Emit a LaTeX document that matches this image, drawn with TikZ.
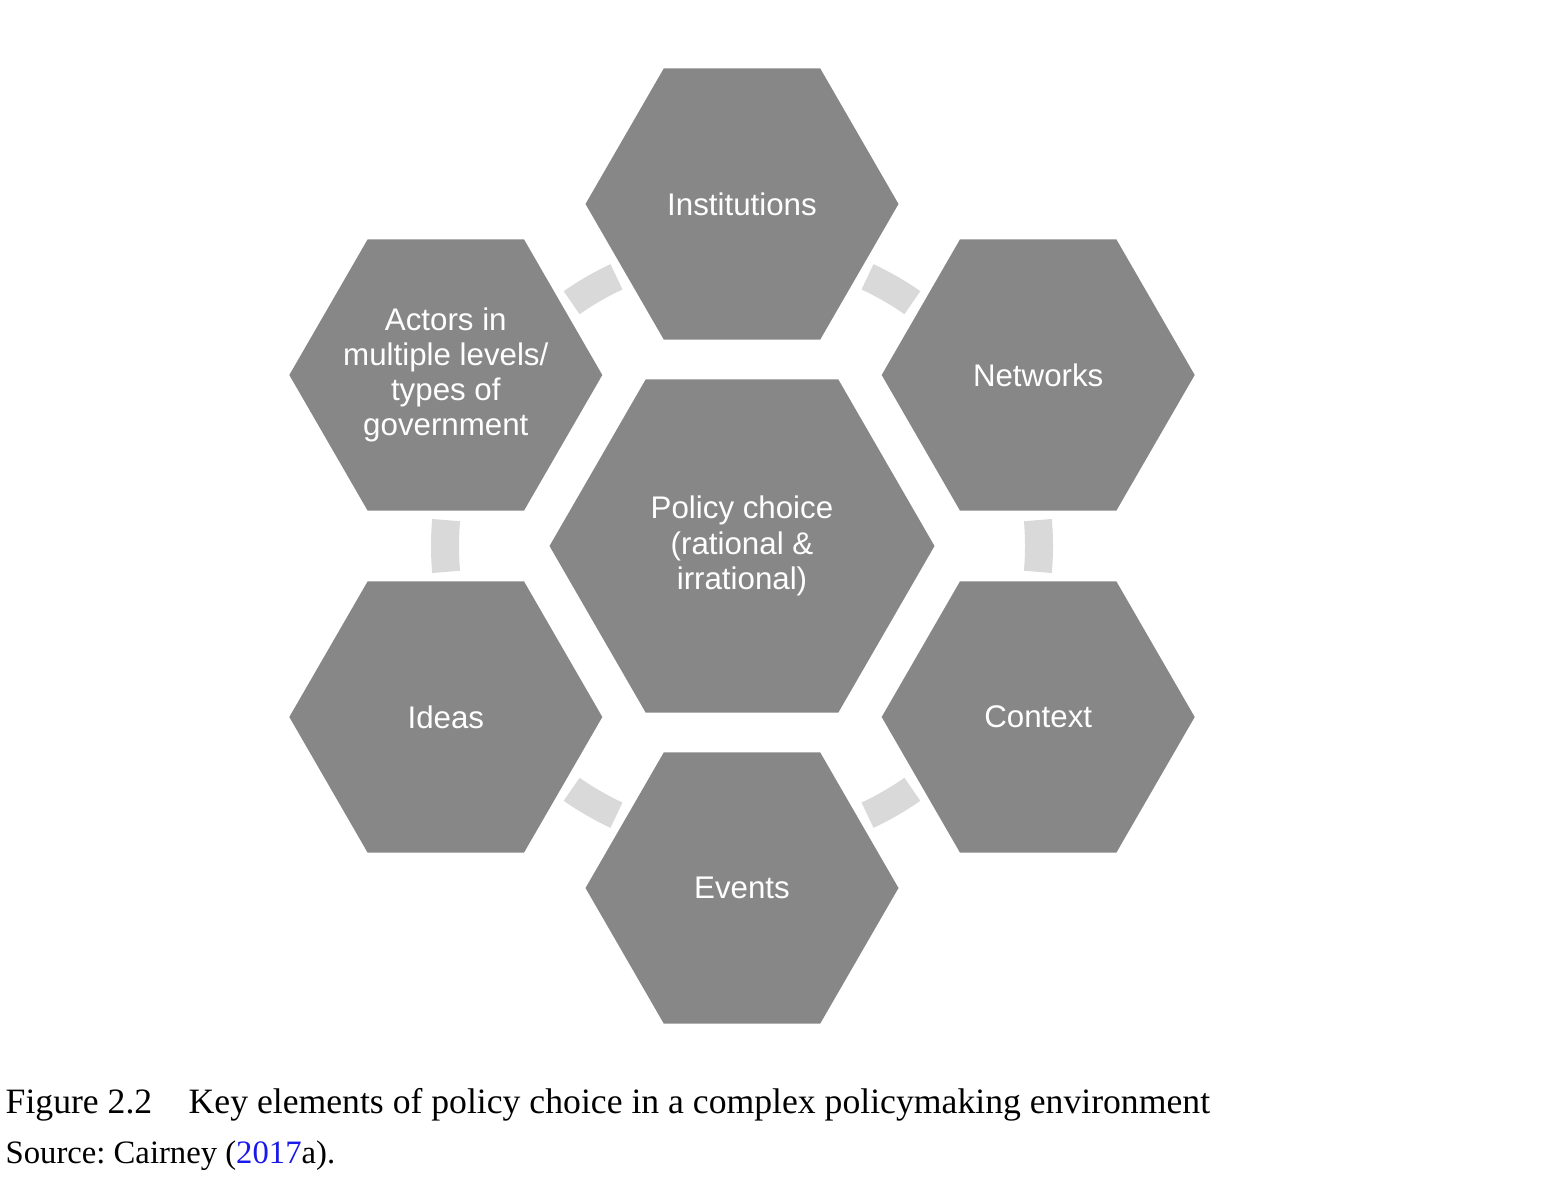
\documentclass[tikz,border=0pt]{standalone}
\usepackage{fontspec}
\setmainfont{Liberation Serif}
\newfontfamily\hexfont{Liberation Sans}
\usetikzlibrary{calc, positioning}
\usetikzlibrary{shapes.geometric}
\definecolor{hexgray}{RGB}{135,135,135}
\definecolor{arcgray}{RGB}{217,217,217}
\definecolor{citeblue}{RGB}{25,25,235}
\def\hr{3.42}
\def\ar{2.97}
\tikzset{
    hexborder/.style = {
        regular polygon, regular polygon sides=6, fill=hexgray, inner sep=0pt, outer sep=0pt,
        minimum size=3.13cm
    },
    hextext/.style = {
        text=white, align=center, inner sep=0pt, font=\hexfont\fontsize{8.9}{10}\selectfont
    },
    pics/Element/.style ={
        code = {
            \node [hexborder](-hex){};
            \node [hextext](-text) at (-hex.center){#1};
    }}
    }
\tikzset{
    centreborder/.style = {
        hexborder, minimum size=3.85cm
    },
    pics/Choice/.style ={
        code = {
            \node [centreborder](-hex){};
            \node [hextext](-text) at (-hex.center){#1};
    }}
    }

\begin{document}
\begin{tikzpicture}
        \useasboundingbox (-7.42,-6.32) rectangle (8.18,5.46);
        % Place the hexagons
        \pic (pc) at (0,0) {Choice={Policy choice\\(rational \&\\irrational)}};
        \pic (inst) at (90:\hr) {Element={Institutions}};
        \pic (net) at (30:\hr) {Element={Networks}};
        \pic (ctx) at (-30:\hr) {Element={Context}};
        \pic (ev) at (-90:\hr) {Element={Events}};
        \pic (ideas) at (210:\hr) {Element={Ideas}};
        \pic (act) at (150:\hr) {Element={Actors in\\multiple levels/\\types of\\government}};
        \begin{scope}[line width=0.28cm, arcgray]
            \draw (pc-hex.center) ++(55:\ar) arc[start angle=55, end angle=65, radius=\ar];
            \draw (pc-hex.center) ++(115:\ar) arc[start angle=115, end angle=125, radius=\ar];
            \draw (pc-hex.center) ++(175:\ar) arc[start angle=175, end angle=185, radius=\ar];
            \draw (pc-hex.center) ++(235:\ar) arc[start angle=235, end angle=245, radius=\ar];
            \draw (pc-hex.center) ++(295:\ar) arc[start angle=295, end angle=305, radius=\ar];
            \draw (pc-hex.center) ++(-5:\ar) arc[start angle=-5, end angle=5, radius=\ar];
        \end{scope}
        % Caption
        \begin{scope}[font=\frenchspacing\fontsize{10.15}{12}\selectfont]
            \node[anchor=base west, inner sep=0pt] (fig) at (-7.37,-5.67) {Figure 2.2};
            \node[anchor=base west, inner sep=0pt] (cap) at (-5.54,-5.67) {Key elements of policy choice in a complex policymaking environment};
            \node[anchor=base west, inner sep=0pt, font=\frenchspacing\fontsize{9.3}{11}\selectfont] (src) at (-7.37,-6.17) {Source: Cairney (\textcolor{citeblue}{2017}a).};
        \end{scope}
    \end{tikzpicture}
\end{document}
